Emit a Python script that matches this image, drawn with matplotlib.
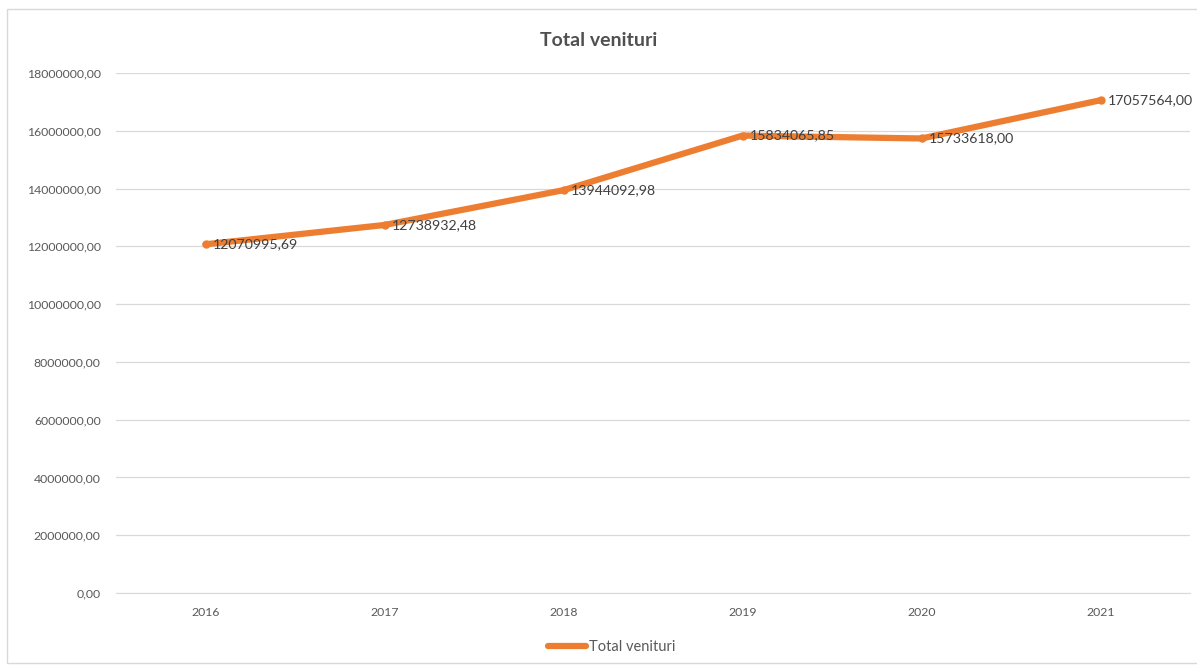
import matplotlib
matplotlib.use("Agg")
import matplotlib.pyplot as plt
from matplotlib.patches import Rectangle

# date grafic
ani = ["2016", "2017", "2018", "2019", "2020", "2021"]
venituri = [12070995.69, 12738932.48, 13944092.98, 15834065.85, 15733618.00, 17057564.00]
etichete = ["12070995,69", "12738932,48", "13944092,98", "15834065,85", "15733618,00", "17057564,00"]
y_ticks = [0, 2000000, 4000000, 6000000, 8000000, 10000000, 12000000, 14000000, 16000000, 18000000]

plt.rcParams['font.family'] = ['Lato', 'DejaVu Sans']
portocaliu = '#ED7D31'
gri_text = '#595959'

fig = plt.figure(figsize=(11.97, 6.66), dpi=100)
# chenarul graficului
fig.patches.append(Rectangle((7 / 1197, 3 / 666), 1.0, 654 / 666, transform=fig.transFigure,
                             fill=False, edgecolor='#d9d9d9', linewidth=1))
ax = fig.add_axes([116 / 1197, 1 - 593 / 666, (1190 - 116) / 1197, (593 - 73) / 666])

x = list(range(len(ani)))
ax.plot(x, venituri, color=portocaliu, linewidth=4.5, solid_capstyle='round',
        solid_joinstyle='round', marker='o', markersize=5, label='Total venituri')

for xi, yi, txt in zip(x, venituri, etichete):
    ax.annotate(txt, (xi, yi), xytext=(5, 0), textcoords='offset points',
                ha='left', va='center', fontsize=10.2, color='#404040', annotation_clip=False)

ax.set_xlim(-0.5, len(ani) - 0.5)
ax.set_ylim(0, 18000000)
ax.set_yticks(y_ticks)
ax.set_yticklabels([f"{v},00" for v in y_ticks])
ax.set_xticks(x)
ax.set_xticklabels(ani)
ax.tick_params(axis='both', length=0, labelsize=8.8, labelcolor=gri_text)
ax.tick_params(axis='y', pad=11)
ax.tick_params(axis='x', pad=10)
ax.grid(axis='y', color='#d9d9d9', linewidth=0.9)
ax.set_axisbelow(True)
for s in ax.spines.values():
    s.set_visible(False)
ax.spines['bottom'].set_visible(True)
ax.spines['bottom'].set_color('#d9d9d9')

fig.text(0.5, 1 - 40 / 666, "Total venituri", ha='center', va='center',
         fontsize=14, fontweight='bold', color='#505050')

leg = fig.legend(loc='center', bbox_to_anchor=(612 / 1197, 1 - 647 / 666), frameon=False,
                 fontsize=10.5, handlelength=2.6, handletextpad=0.2)
for t in leg.get_texts():
    t.set_color(gri_text)
for h in leg.legend_handles:
    h.set_marker('')

fig.savefig("out.png", dpi=100)
